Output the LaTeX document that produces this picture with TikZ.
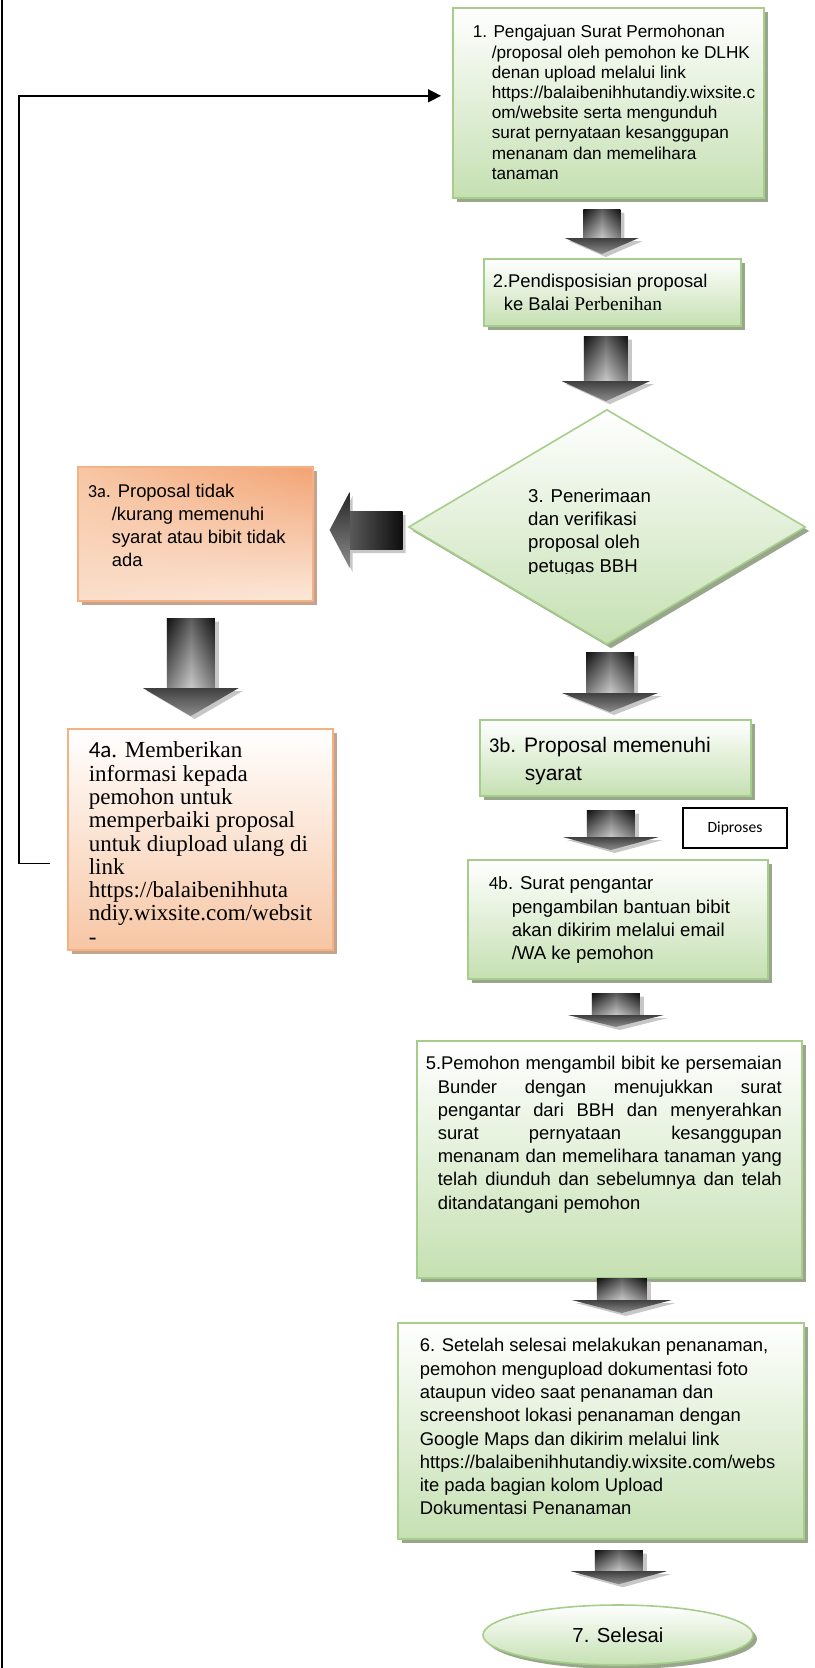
\documentclass[tikz,border=0pt]{standalone}
\usepackage{fontspec}
\setmainfont{Liberation Sans}
\newfontfamily\calfont{Carlito}
\newfontfamily\serfont{Liberation Serif}
\usetikzlibrary{shapes.geometric,shadows,shadings,calc,arrows.meta}

\definecolor{grnline}{RGB}{166,206,138}
\definecolor{grnfill}{RGB}{197,224,178}
\definecolor{grnshade}{RGB}{152,166,140}
\definecolor{orgline}{RGB}{244,177,131}
\definecolor{orgfill}{RGB}{247,198,164}
\definecolor{orgdeep}{RGB}{242,163,115}
\definecolor{orgpale}{RGB}{252,232,218}
\definecolor{orgshade}{RGB}{196,164,143}

% box text: left pad, text width, right pad, height, top pad, text
\newcommand{\boxtext}[6]{\hspace*{#1}\parbox[c][#4][t]{#2}{\vspace*{#5}\strut#6}\hspace*{#3}}
% outline of a downward block arrow
\newcommand{\dnpoly}[4]{($(#1)+(-#4,0)$) -- ($(#1)+(#4,0)$) -- ($(#2)+(#4,-#3)$) -- ($(#2)+(2*#4,-#3)$) -- (#2) -- ($(#2)+(-2*#4,-#3)$) -- ($(#2)+(-#4,-#3)$) -- cycle}
% block arrow down: top, tip, head length, body half width
\newcommand{\blkdown}[4]{%
  \coordinate (bkT) at #1;
  \coordinate (bkP) at #2;
  \coordinate (bkQ) at (bkT |- bkP);
  \coordinate (bkTs) at ($(bkT)+(4,3)$);
  \coordinate (bkQs) at ($(bkQ)+(4,3)$);
  \fill[blkshadow] \dnpoly{bkTs}{bkQs}{#3}{#4};
  \shade[blkbody] ($(bkT)+(-#4,0)$) rectangle ($(bkQ)+(#4,-#3)$);
  \shade[blkgloss] ($(bkT)+(-#4,0)$) rectangle ($(bkQ)+(#4,-#3)$);
  \shade[blkhead] ($(bkQ)+(-2*#4,-#3)$) -- ($(bkQ)+(2*#4,-#3)$) -- (bkQ) -- cycle;
}
% block arrow left: start, tip, head length, body half width
\newcommand{\blkleft}[4]{%
  \coordinate (bkT) at #1;
  \coordinate (bkP) at #2;
  \coordinate (bkQ) at (bkP |- bkT);
  \fill[blkshadow] ($(bkT)+(3,-#4+4)$) -- ($(bkT)+(3,#4+4)$) -- ($(bkQ)+(#3+3,#4+4)$) -- ($(bkQ)+(#3+3,2*#4+4)$) -- ($(bkQ)+(3,4)$) -- ($(bkQ)+(#3+3,-2*#4+4)$) -- ($(bkQ)+(#3+3,-#4+4)$) -- cycle;
  \shade[left color=black!65, middle color=black!22, right color=black!95] ($(bkT)+(0,-#4)$) rectangle ($(bkQ)+(#3,#4)$);
  \shade[top color=black!85, bottom color=black!45] ($(bkQ)+(#3,-2*#4)$) -- ($(bkQ)+(#3,2*#4)$) -- (bkQ) -- cycle;
}

\tikzset{
  grnbox/.style={draw=grnline, line width=1.6pt, top color=white, bottom color=grnfill,
    inner sep=0pt, anchor=north west,
    drop shadow={shadow xshift=4pt, shadow yshift=-4pt, fill=grnshade, opacity=1}},
  orgbox/.style={draw=orgline, line width=1.6pt, top color=white, bottom color=orgfill,
    inner sep=0pt, anchor=north west,
    drop shadow={shadow xshift=4pt, shadow yshift=-4pt, fill=orgshade, opacity=1}},
  orgdeepbox/.style={orgbox, upper left=orgfill, upper right=orgdeep,
    lower left=orgpale!70!orgfill, lower right=orgpale},
  dmd/.style={diamond, draw=grnline, line width=1.6pt, top color=white, bottom color=grnfill,
    inner sep=0pt, minimum width=397pt, minimum height=235pt,
    drop shadow={shadow xshift=4pt, shadow yshift=-4pt, fill=grnshade, opacity=1}},
  grnell/.style={ellipse, draw=grnline, line width=1.6pt, top color=white, bottom color=grnfill,
    inner sep=0pt, minimum width=270pt, minimum height=60pt,
    font=\fontsize{20.3}{24}\selectfont,
    drop shadow={shadow xshift=4pt, shadow yshift=-4pt, fill=grnshade, opacity=1}},
  plainbox/.style={draw=black, line width=1.5pt, fill=white, minimum width=104pt,
    minimum height=40pt, inner sep=0pt, font=\calfont\fontsize{15.6}{18}\selectfont},
  dmdtext/.style={anchor=north west, inner sep=0pt, font=\fontsize{18.6}{23.3}\selectfont},
  blkshadow/.style={fill=black!22},
  blkbody/.style={top color=black!90, bottom color=black!30},
  blkgloss/.style={left color=black, right color=black, middle color=white, opacity=0.3},
  blkhead/.style={top color=black!75, bottom color=black!45},
  loopline/.style={line width=1.5pt, -{Triangle[length=13pt,width=13pt]}},
}

\begin{document}
\begin{tikzpicture}[x=1pt,y=-1pt]
\useasboundingbox (0,0) rectangle (814,1668);

% left margin line
\draw[line width=1.5pt] (2,0) -- (2,1668);

% steps
\node[grnbox, font=\fontsize{17.2}{20.2}\selectfont] (b1) at (452,7)
  {\boxtext{20pt}{289pt}{2pt}{190pt}{16pt}{\hangindent=19pt\hangafter=1 1. Pengajuan Surat Permohonan\newline
   /proposal oleh pemohon ke DLHK\newline
   denan upload melalui  link\newline
   https://balaibenihhutandiy.wixsite.c\newline
   om/website serta mengunduh\newline
   surat pernyataan kesanggupan\newline
   menanam dan memelihara\newline
   tanaman}};

\node[grnbox, font=\fontsize{18.4}{23}\selectfont] (b2) at (483,258)
  {\boxtext{9pt}{246pt}{2pt}{67pt}{13pt}{\hangindent=11pt\hangafter=1 2.Pendisposisian proposal\newline
   ke Balai {\serfont\fontsize{19.5}{23}\selectfont Perbenihan}}};

\node[dmd] (d3) at (607,527) {};
\begin{scope}
  \clip (515,470) rectangle (720,573);
  \node[dmdtext] at ($(d3.center)+(-79,-41.3)$)
    {\parbox[t]{190pt}{\strut 3. Penerimaan\newline dan verifikasi\newline proposal oleh\newline petugas BBH}};
\end{scope}

\node[orgdeepbox, font=\fontsize{18.4}{23}\selectfont] (b3a) at (77,466)
  {\boxtext{10pt}{223pt}{2pt}{134pt}{15pt}{\hangindent=24pt\hangafter=1 {\calfont 3a}. Proposal tidak\newline
   /kurang memenuhi\newline
   syarat atau bibit tidak\newline
   ada}};

\node[orgbox, font=\serfont\fontsize{23}{23.3}\selectfont] (b4a) at (67,728)
  {\boxtext{21pt}{242pt}{2pt}{221pt}{12.7pt}{{\calfont 4a}. Memberikan\newline
   informasi kepada\newline
   pemohon untuk\newline
   memperbaiki proposal\newline
   untuk diupload ulang di\newline
   link\newline
   https://balaibenihhuta\newline
   ndiy.wixsite.com/websit\newline
   -}};

\node[grnbox, font=\fontsize{21}{28}\selectfont] (b3b) at (479,719)
  {\boxtext{9pt}{260pt}{2pt}{76pt}{13.4pt}{\hangindent=36pt\hangafter=1 {\calfont 3b}. Proposal memenuhi\newline
   syarat}};

\node[plainbox] (dp) at (735,828) {Diproses};

\node[grnbox, font=\fontsize{18.6}{23.3}\selectfont] (b4b) at (467,859)
  {\boxtext{21pt}{277pt}{2pt}{119pt}{13.7pt}{\hangindent=23pt\hangafter=1 {\calfont 4b}. Surat pengantar\newline
   pengambilan bantuan bibit\newline
   akan dikirim melalui email\newline
   /WA ke pemohon}};

\node[grnbox, font=\fontsize{18.4}{23.2}\selectfont] (b5) at (416,1040)
  {\boxtext{9pt}{356pt}{20pt}{237pt}{12.8pt}{\hangindent=12pt\hangafter=1 5.Pemohon mengambil bibit ke persemaian\linebreak
   Bunder dengan menujukkan surat\linebreak
   pengantar dari BBH dan menyerahkan\linebreak
   surat pernyataan kesanggupan\linebreak
   menanam dan memelihara tanaman yang\linebreak
   telah diunduh dan sebelumnya dan telah\linebreak
   ditandatangani pemohon}};

\node[grnbox, font=\fontsize{18.4}{23.3}\selectfont] (b6) at (397,1322)
  {\boxtext{22pt}{382pt}{2pt}{216pt}{12.7pt}{6. Setelah selesai melakukan penanaman,\newline
   pemohon mengupload dokumentasi foto\newline
   ataupun video saat penanaman dan\newline
   screenshoot lokasi penanaman dengan\newline
   Google Maps dan dikirim melalui link\newline
   https://balaibenihhutandiy.wixsite.com/webs\newline
   ite pada bagian  kolom Upload\newline
   Dokumentasi Penanaman}};

\node[grnell] (e7) at (618,1635) {7. Selesai};

% block arrows
\blkdown{($(b1.south)+(-6.5,11)$)}{($(b2.north)+(0,-4)$)}{16}{18.5}
\blkdown{($(b2.south)+(-6.5,10)$)}{($(d3.north)+(0,-7.5)$)}{20}{22}
\blkleft{($(d3.west)+(-5,3)$)}{($(b3a.east)+(16,0)$)}{20}{19}
\blkdown{($(b3a.south)+(-4.5,17)$)}{($(b4a.north)+(0,-12)$)}{28}{24}
\blkdown{($(d3.south)+(3,7.5)$)}{($(b3b.north)+(0,-7)$)}{19}{24}
\blkdown{($(b3b.south)+(-4.5,14)$)}{($(b4b.north)+(0,-9)$)}{13}{24}
\blkdown{($(b4b.south)+(-2,14)$)}{($(b5.north)+(0,-13)$)}{12}{24}
\blkdown{($(b5.south)+(12.5,0)$)}{($(b6.north)+(0,-9)$)}{13}{25}
\blkdown{($(b6.south)+(18,11)$)}{($(e7.north)+(0,-20)$)}{13}{24}

% return line
\coordinate (lpA) at ($(b4a.west)+(-17,24)$);
\coordinate (lpB) at ($(b1.west)+(-11,-7)$);
\draw[loopline] (lpA) -- ++(-31,0) |- (lpB);
\end{tikzpicture}
\end{document}
